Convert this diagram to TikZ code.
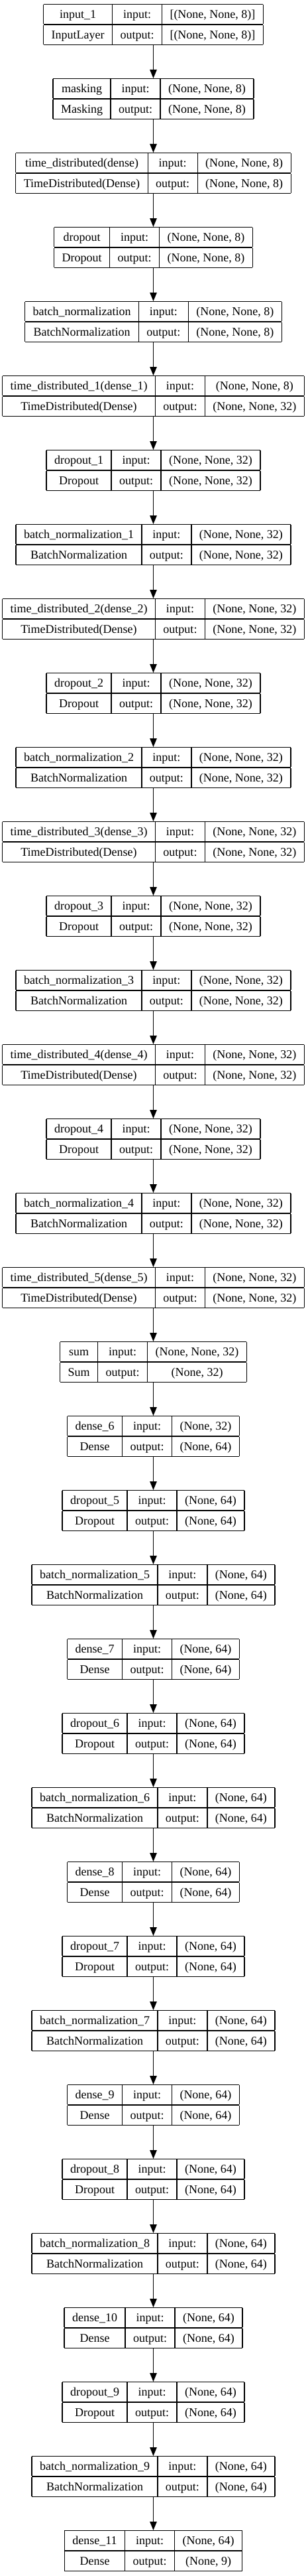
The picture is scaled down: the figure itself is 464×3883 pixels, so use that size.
\documentclass[tikz,border=0pt]{standalone}
\usepackage{fontspec}
\setmainfont{Liberation Serif}
\usetikzlibrary{arrows.meta}
\setlength\arrayrulewidth{1.2pt}
\setlength\tabcolsep{12pt}
\newcommand\mklayer[7]{%
  \node[layerbox] (#1) at (231.5,{-6-112*#2}) {\begin{tabular}{|c|c|c|}\hline #3 & input: & #5\\\hline #4 & output: & #6\\\hline\end{tabular}};%
}
\begin{document}
\begin{tikzpicture}[x=1pt,y=1pt,
  layerbox/.style={inner sep=0pt,outer sep=0pt,anchor=north,font=\fontsize{18}{29.2}\selectfont},
  arr/.style={line width=1.2pt,-{Triangle[length=13pt,width=10.5pt]}}]
\useasboundingbox (0,0) rectangle (464,-3883);
\mklayer{L1}{0}{input\_1}{InputLayer}{[(None, None, 8)]}{[(None, None, 8)]}{}
\mklayer{L2}{1}{masking}{Masking}{(None, None, 8)}{(None, None, 8)}{}
\mklayer{L3}{2}{time\_distributed(dense)}{TimeDistributed(Dense)}{(None, None, 8)}{(None, None, 8)}{}
\mklayer{L4}{3}{dropout}{Dropout}{(None, None, 8)}{(None, None, 8)}{}
\mklayer{L5}{4}{batch\_normalization}{BatchNormalization}{(None, None, 8)}{(None, None, 8)}{}
\mklayer{L6}{5}{time\_distributed\_1(dense\_1)}{TimeDistributed(Dense)}{(None, None, 8)}{(None, None, 32)}{}
\mklayer{L7}{6}{dropout\_1}{Dropout}{(None, None, 32)}{(None, None, 32)}{}
\mklayer{L8}{7}{batch\_normalization\_1}{BatchNormalization}{(None, None, 32)}{(None, None, 32)}{}
\mklayer{L9}{8}{time\_distributed\_2(dense\_2)}{TimeDistributed(Dense)}{(None, None, 32)}{(None, None, 32)}{}
\mklayer{L10}{9}{dropout\_2}{Dropout}{(None, None, 32)}{(None, None, 32)}{}
\mklayer{L11}{10}{batch\_normalization\_2}{BatchNormalization}{(None, None, 32)}{(None, None, 32)}{}
\mklayer{L12}{11}{time\_distributed\_3(dense\_3)}{TimeDistributed(Dense)}{(None, None, 32)}{(None, None, 32)}{}
\mklayer{L13}{12}{dropout\_3}{Dropout}{(None, None, 32)}{(None, None, 32)}{}
\mklayer{L14}{13}{batch\_normalization\_3}{BatchNormalization}{(None, None, 32)}{(None, None, 32)}{}
\mklayer{L15}{14}{time\_distributed\_4(dense\_4)}{TimeDistributed(Dense)}{(None, None, 32)}{(None, None, 32)}{}
\mklayer{L16}{15}{dropout\_4}{Dropout}{(None, None, 32)}{(None, None, 32)}{}
\mklayer{L17}{16}{batch\_normalization\_4}{BatchNormalization}{(None, None, 32)}{(None, None, 32)}{}
\mklayer{L18}{17}{time\_distributed\_5(dense\_5)}{TimeDistributed(Dense)}{(None, None, 32)}{(None, None, 32)}{}
\mklayer{L19}{18}{sum}{Sum}{(None, None, 32)}{(None, 32)}{}
\mklayer{L20}{19}{dense\_6}{Dense}{(None, 32)}{(None, 64)}{}
\mklayer{L21}{20}{dropout\_5}{Dropout}{(None, 64)}{(None, 64)}{}
\mklayer{L22}{21}{batch\_normalization\_5}{BatchNormalization}{(None, 64)}{(None, 64)}{}
\mklayer{L23}{22}{dense\_7}{Dense}{(None, 64)}{(None, 64)}{}
\mklayer{L24}{23}{dropout\_6}{Dropout}{(None, 64)}{(None, 64)}{}
\mklayer{L25}{24}{batch\_normalization\_6}{BatchNormalization}{(None, 64)}{(None, 64)}{}
\mklayer{L26}{25}{dense\_8}{Dense}{(None, 64)}{(None, 64)}{}
\mklayer{L27}{26}{dropout\_7}{Dropout}{(None, 64)}{(None, 64)}{}
\mklayer{L28}{27}{batch\_normalization\_7}{BatchNormalization}{(None, 64)}{(None, 64)}{}
\mklayer{L29}{28}{dense\_9}{Dense}{(None, 64)}{(None, 64)}{}
\mklayer{L30}{29}{dropout\_8}{Dropout}{(None, 64)}{(None, 64)}{}
\mklayer{L31}{30}{batch\_normalization\_8}{BatchNormalization}{(None, 64)}{(None, 64)}{}
\mklayer{L32}{31}{dense\_10}{Dense}{(None, 64)}{(None, 64)}{}
\mklayer{L33}{32}{dropout\_9}{Dropout}{(None, 64)}{(None, 64)}{}
\mklayer{L34}{33}{batch\_normalization\_9}{BatchNormalization}{(None, 64)}{(None, 64)}{}
\mklayer{L35}{34}{dense\_11}{Dense}{(None, 64)}{(None, 9)}{}
\foreach \a [evaluate=\a as \b using int(\a+1)] in {1,...,34}
  \draw[arr] (L\a) -- (L\b);
\end{tikzpicture}
\end{document}
